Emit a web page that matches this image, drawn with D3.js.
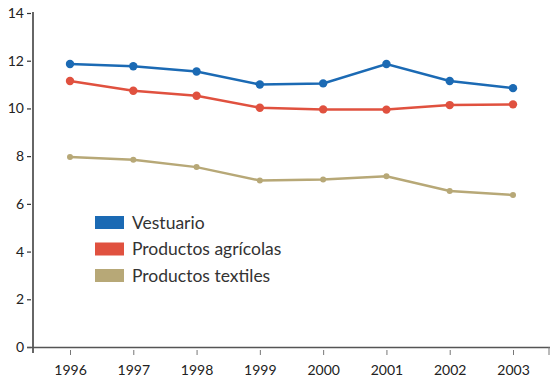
<!DOCTYPE html>
<html><head><meta charset="utf-8">
<script src="https://cdn.jsdelivr.net/npm/d3@7"></script>
<style>body{margin:0;background:#fff}svg{display:block}text{font-family:Lato,"Open Sans",sans-serif}</style>
</head><body>
<svg id="c" width="552" height="381"></svg>
<script>
const years = [1996, 1997, 1998, 1999, 2000, 2001, 2002, 2003];
const vestuario = [11.86, 11.77, 11.55, 11.0, 11.05, 11.86, 11.15, 10.85];
const agricolas = [11.15, 10.74, 10.53, 10.03, 9.96, 9.95, 10.14, 10.17];
const textiles = [7.96, 7.85, 7.54, 6.98, 7.02, 7.16, 6.54, 6.37];
const yTicks = [0, 2, 4, 6, 8, 10, 12, 14];
const seriesNames = ["Vestuario", "Productos agrícolas", "Productos textiles"];
const seriesColors = ["#1b6ab4", "#e0513f", "#b7a877"];

const svg = d3.select("#c");
const x = d3.scaleLinear().domain([1996, 2003]).range([70, 513]);
const y = d3.scaleLinear().domain([0, 14]).range([347, 13]);
const axisColor = "#333";

// y axis
const ya = svg.append("g").attr("transform", "translate(33,0)")
  .call(d3.axisLeft(y).tickValues(yTicks).tickSize(0).tickPadding(9).tickFormat(d3.format("d")));
ya.select(".domain").remove();
ya.selectAll("text").attr("font-size", 14).attr("fill", "#222").attr("font-family", "Lato, sans-serif");
ya.selectAll(".tick").append("line").attr("x1", -6).attr("x2", -2).attr("stroke", axisColor).attr("stroke-width", 1.2);
svg.append("line").attr("x1", 33).attr("x2", 33).attr("y1", 12).attr("y2", 353).attr("stroke", axisColor).attr("stroke-width", 1.5);

// x axis
const xa = svg.append("g").attr("transform", "translate(0,347)")
  .call(d3.axisBottom(x).tickValues(years).tickSize(0).tickPadding(18).tickFormat(d3.format("d")));
xa.select(".domain").remove();
xa.selectAll("text").attr("font-size", 14).attr("fill", "#222").attr("font-family", "Lato, sans-serif");
xa.selectAll(".tick").append("line").attr("y1", 3).attr("y2", 8).attr("stroke", "#777").attr("stroke-width", 1);
svg.append("line").attr("x1", 27).attr("x2", 550).attr("y1", 347.5).attr("y2", 347.5).attr("stroke", "#555").attr("stroke-width", 1.5);
svg.append("line").attr("x1", 549).attr("x2", 549).attr("y1", 347).attr("y2", 355).attr("stroke", "#777").attr("stroke-width", 1);

const data = [vestuario, agricolas, textiles];
const line = d3.line().x((d, i) => x(years[i])).y(d => y(d));
data.forEach((vals, k) => {
  svg.append("path").datum(vals).attr("d", line).attr("fill", "none")
    .attr("stroke", seriesColors[k]).attr("stroke-width", 2.5);
  svg.selectAll(null).data(vals).enter().append("circle")
    .attr("cx", (d, i) => x(years[i])).attr("cy", d => y(d))
    .attr("r", k === 2 ? 3 : 4.2).attr("fill", seriesColors[k]);
});

// legend
const lg = svg.append("g");
seriesNames.forEach((n, i) => {
  const yy = 216 + i * 26.5;
  lg.append("rect").attr("x", 95).attr("y", yy).attr("width", 29).attr("height", 13).attr("fill", seriesColors[i]);
  lg.append("text").attr("x", 132).attr("y", yy + 12.5).attr("font-size", 17.5).attr("fill", "#333").text(n);
});
</script>
</body></html>
